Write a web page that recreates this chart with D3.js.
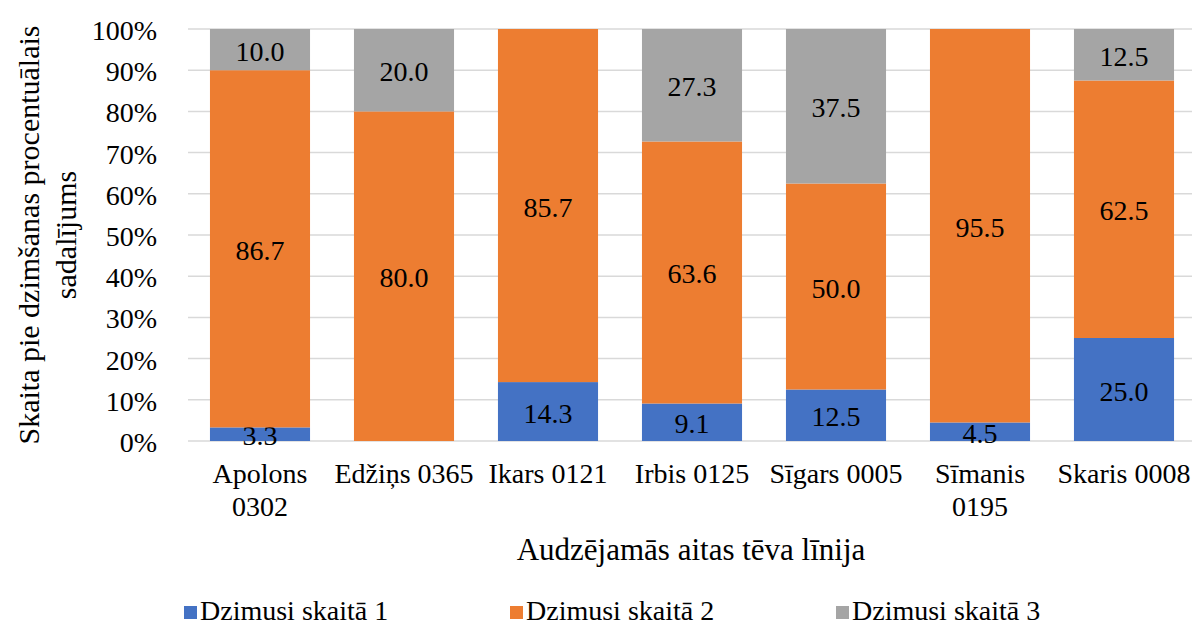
<!DOCTYPE html>
<html>
<head>
<meta charset="utf-8">
<script src="https://cdn.jsdelivr.net/npm/d3@7"></script>
</head>
<body style="margin:0">
<script>
// data
var categories = ["Apolons 0302", "Edžiņs 0365", "Ikars 0121", "Irbis 0125", "Sīgars 0005", "Sīmanis 0195", "Skaris 0008"];
var categoryLines = [["Apolons", "0302"], ["Edžiņs 0365"], ["Ikars 0121"], ["Irbis 0125"], ["Sīgars 0005"], ["Sīmanis", "0195"], ["Skaris 0008"]];
var seriesNames = ["Dzimusi skaitā 1", "Dzimusi skaitā 2", "Dzimusi skaitā 3"];
var seriesColors = ["#4472C4", "#ED7D31", "#A5A5A5"];
var skaita1 = [3.3, 0, 14.3, 9.1, 12.5, 4.5, 25.0];
var skaita2 = [86.7, 80.0, 85.7, 63.6, 50.0, 95.5, 62.5];
var skaita3 = [10.0, 20.0, 0, 27.3, 37.5, 0, 12.5];
var yTicks = [0, 10, 20, 30, 40, 50, 60, 70, 80, 90, 100];
var yTitle = ["Skaita pie dzimšanas procentuālais", "sadalījums"];
var xTitle = "Audzējamās aitas tēva līnija";

var W = 1192, H = 626;
var FONT = "Liberation Serif";
var FS = 28;
var margin = {top: 29, right: -4, bottom: 185, left: 188};

var svg = d3.select("body").append("svg")
	.attr("width", W)
	.attr("height", H);

var x = d3.scaleBand()
	.domain(categories)
	.range([margin.left, W - margin.right])
	.paddingInner(0.305)
	.paddingOuter(0.1525);

var y = d3.scaleLinear()
	.domain([0, 100])
	.range([H - margin.bottom, margin.top]);

function txt(sel, size) {
	return sel.attr("font-family", FONT)
		.attr("font-size", size || FS)
		.attr("fill", "#000");
}

// grid
svg.append("g")
	.selectAll("line")
	.data(yTicks)
	.enter()
	.append("line")
	.attr("x1", margin.left)
	.attr("x2", W)
	.attr("y1", function(d){ return y(d); })
	.attr("y2", function(d){ return y(d); })
	.attr("stroke", "#D9D9D9")
	.attr("stroke-width", 1.5);

// y tick labels
svg.append("g")
	.selectAll("text")
	.data(yTicks)
	.enter()
	.append("text")
	.text(function(d){ return d + "%"; })
	.attr("x", 157)
	.attr("y", function(d){ return y(d) + 11; })
	.attr("text-anchor", "end")
	.call(txt);

// stacking
var rows = categories.map(function(c, i){
	return {cat: c, s0: skaita1[i], s1: skaita2[i], s2: skaita3[i]};
});
var stack = d3.stack().keys(["s0", "s1", "s2"]);
var layers = stack(rows);

var layerG = svg.append("g")
	.selectAll("g")
	.data(layers)
	.enter()
	.append("g");

layerG.selectAll("rect")
	.data(function(d){ return d; })
	.enter()
	.append("rect")
	.attr("fill", function(){ return seriesColors[d3.select(this.parentNode).datum().index]; })
	.attr("x", function(d){ return x(d.data.cat); })
	.attr("width", x.bandwidth())
	.attr("y", function(d){ return y(d[1]); })
	.attr("height", function(d){ return y(d[0]) - y(d[1]); });

// data labels
layerG.selectAll("text")
	.data(function(d){ return d.filter(function(p){ return p[1] - p[0] > 0; }); })
	.enter()
	.append("text")
	.text(function(d){ return (d[1] - d[0]).toFixed(1); })
	.attr("x", function(d){ return x(d.data.cat) + x.bandwidth() / 2; })
	.attr("y", function(d){ return (y(d[0]) + y(d[1])) / 2 + 11; })
	.attr("text-anchor", "middle")
	.call(txt);

// x labels
var xl = svg.append("g")
	.selectAll("text")
	.data(categories)
	.enter()
	.append("text")
	.attr("text-anchor", "middle")
	.attr("x", function(d){ return x(d) + x.bandwidth() / 2; })
	.attr("y", 483)
	.call(txt);

xl.selectAll("tspan")
	.data(function(d, i){ return categoryLines[i]; })
	.enter()
	.append("tspan")
	.attr("x", function(){ var p = d3.select(this.parentNode).datum(); return x(p) + x.bandwidth() / 2; })
	.attr("dy", function(d, i){ return i === 0 ? 0 : 33; })
	.text(function(d){ return d; });

// axis titles
svg.append("text")
	.text(xTitle)
	.attr("x", 691)
	.attr("y", 560)
	.attr("text-anchor", "middle")
	.call(txt, 31);

svg.append("g")
	.attr("transform", "translate(0,235) rotate(-90)")
	.selectAll("text")
	.data(yTitle)
	.enter()
	.append("text")
	.text(function(d){ return d; })
	.attr("x", 0)
	.attr("y", function(d, i){ return 39 + i * 37; })
	.attr("text-anchor", "middle")
	.call(txt, 30);

// legend
var legend = svg.append("g")
	.selectAll("g")
	.data(seriesNames)
	.enter()
	.append("g")
	.attr("transform", function(d, i){ return "translate(" + (184 + i * 326) + ",606)"; });

legend.append("rect")
	.attr("width", 13)
	.attr("height", 13)
	.attr("fill", function(d, i){ return seriesColors[i]; });

legend.append("text")
	.text(function(d){ return d; })
	.attr("x", 16)
	.attr("y", 14)
	.call(txt);
</script>
</body>
</html>
